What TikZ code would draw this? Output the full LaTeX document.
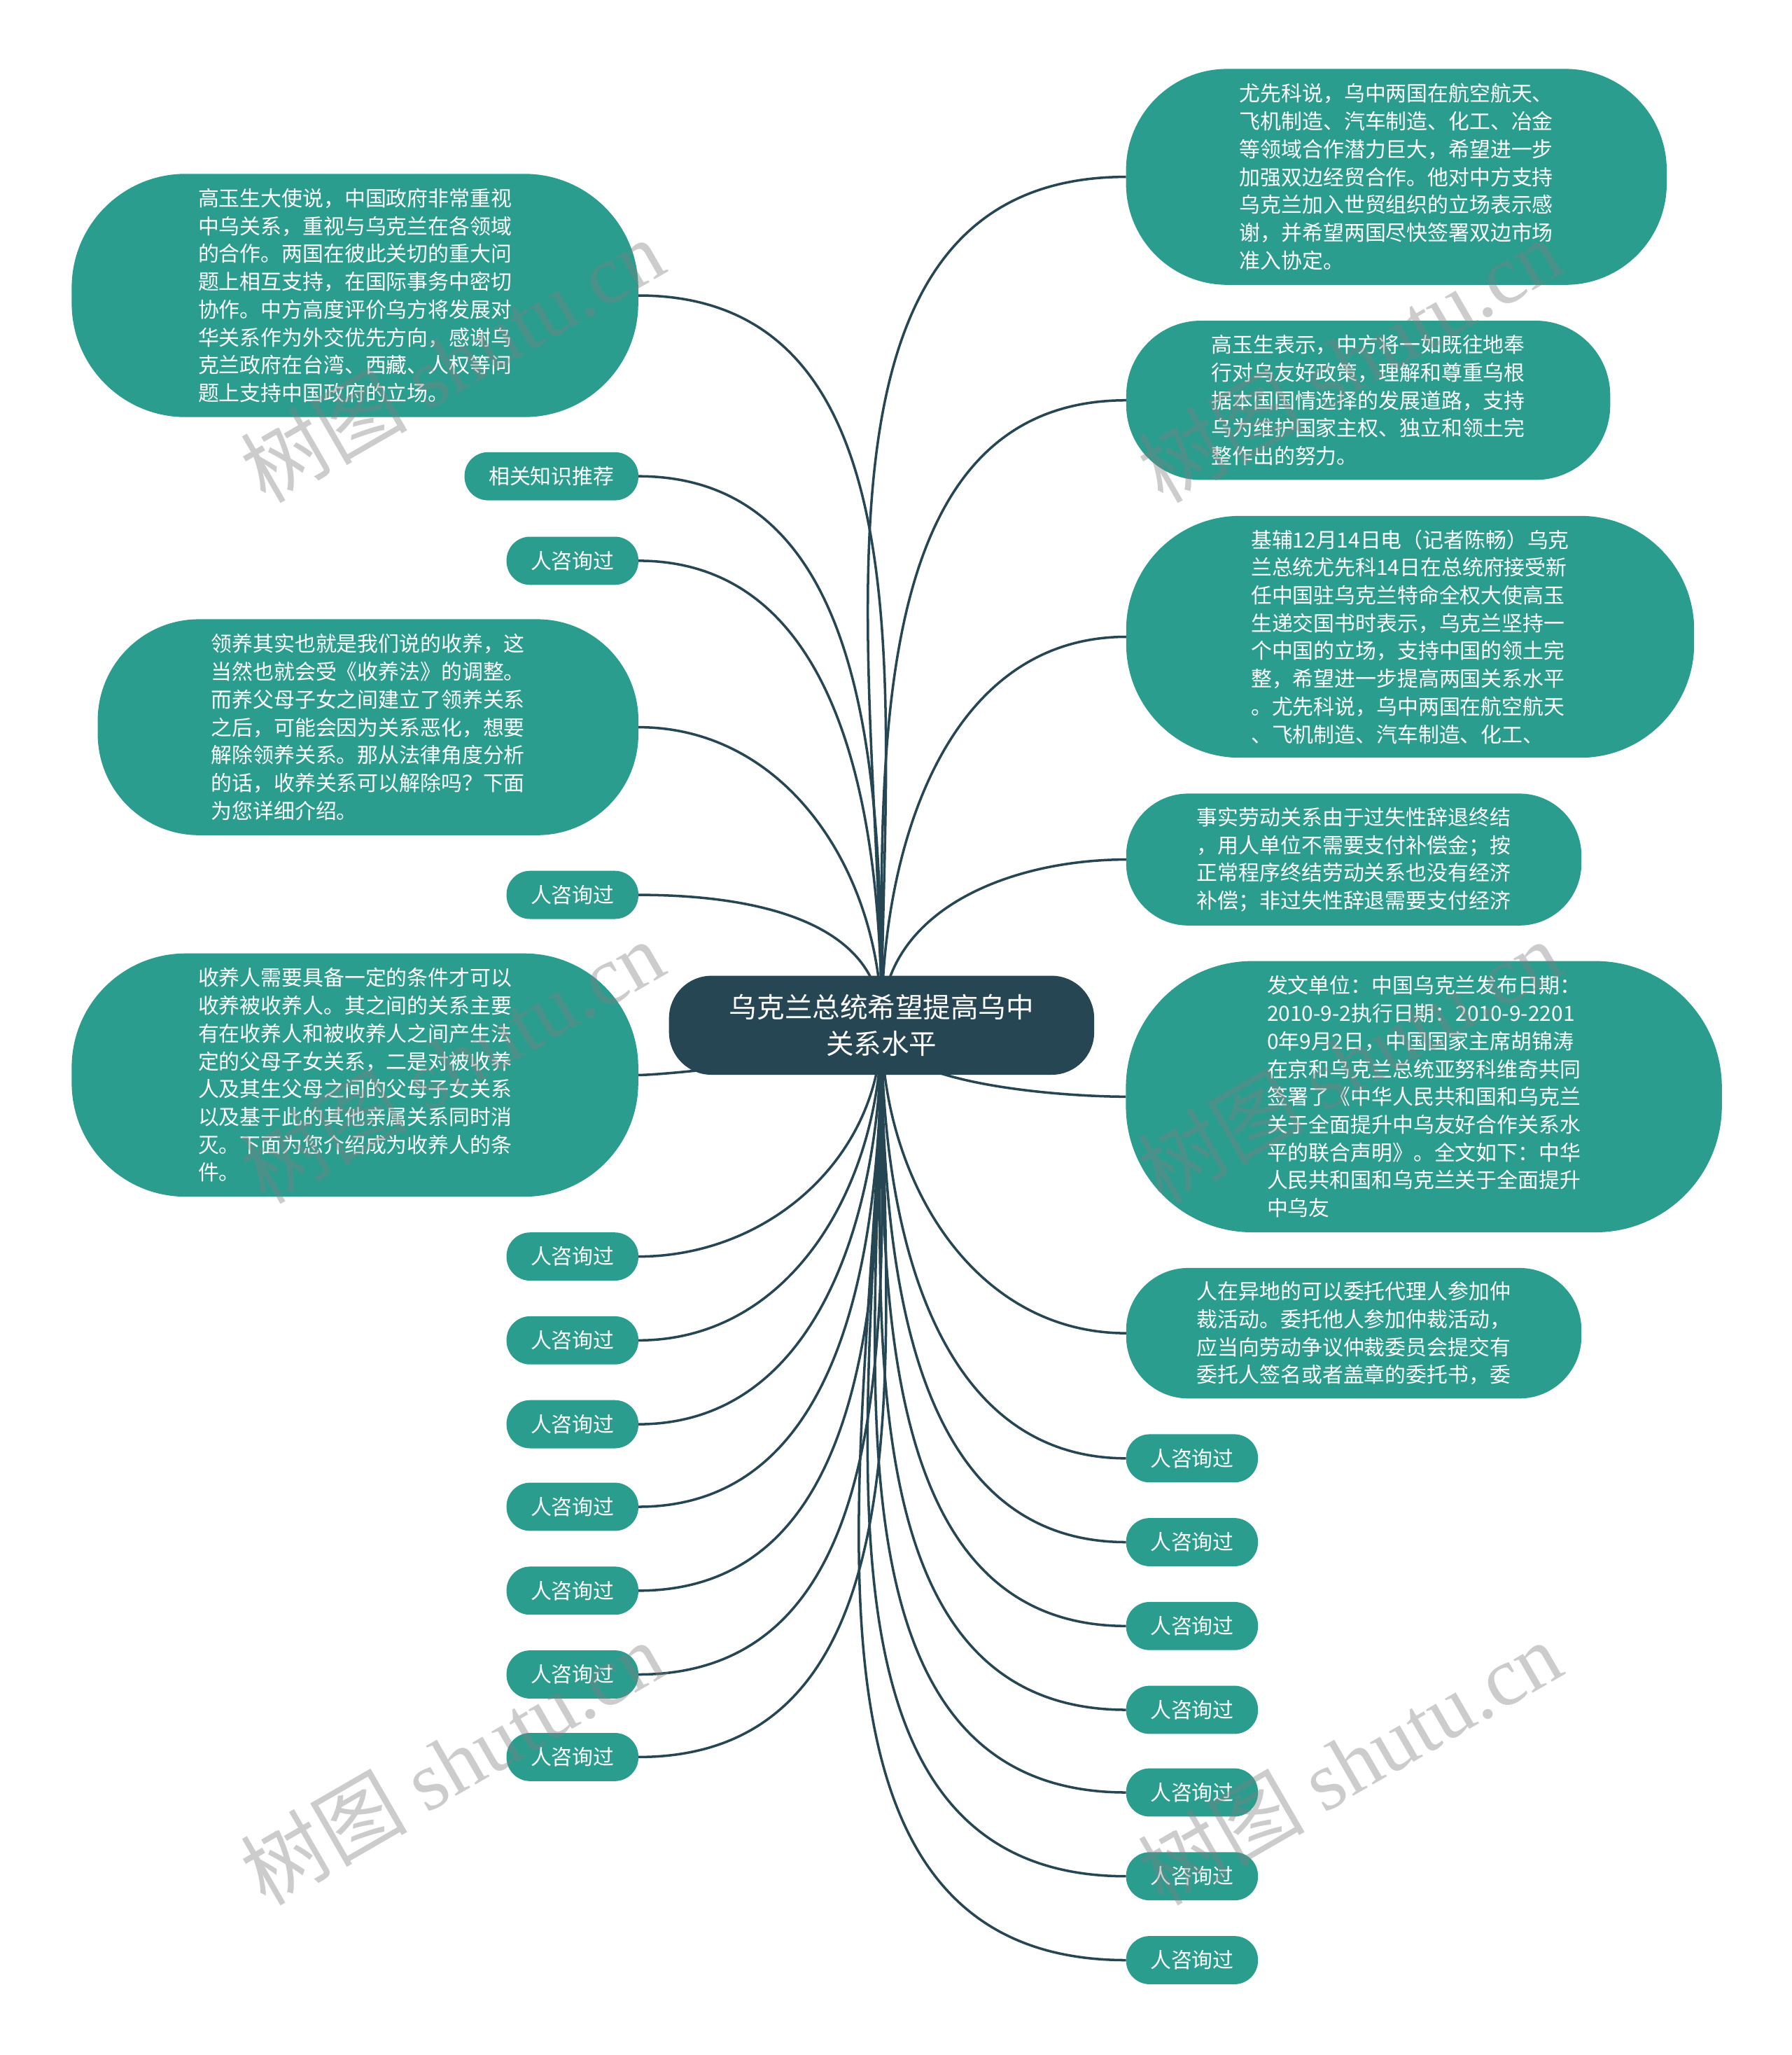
\documentclass[tikz,border=0pt]{standalone}
\usepackage{fontspec}
\newfontfamily\cjk{Noto Sans CJK SC}
\newfontfamily\wmlatin{Liberation Serif}
\usepackage{tikz}
\usetikzlibrary{backgrounds}
\definecolor{hubblue}{RGB}{38,70,83}
\definecolor{leafteal}{RGB}{42,157,143}

\begin{document}
\begin{tikzpicture}[
    hub/.style={draw=hubblue, fill=hubblue, text=white, rounded corners=0.6cm, minimum width=6.06cm, minimum height=1.40cm, align=center, inner sep=0pt, font=\cjk\fontsize{11.25pt}{14.9pt}\selectfont},
    card/.style={draw=leafteal, fill=leafteal, text=white, align=left, inner sep=0pt, font=\cjk\fontsize{8.5pt}{11.3pt}\selectfont},
    tag/.style={card, align=center, minimum width=1.87cm, minimum height=0.674cm, rounded corners=0.33cm},
    link/.style={draw=hubblue, line width=1pt},
    wmtext/.style={text=gray, opacity=0.4, rotate=30, font=\cjk\fontsize{34pt}{34pt}\selectfont}
]
\useasboundingbox (0,0) rectangle (25.6,-29.35);

\node[hub] (hub) at (12.594,-14.643) {乌克兰总统希望提高乌中\\关系水平};

% left side
\node[card, minimum width=8.08cm, minimum height=3.46cm, rounded corners=1.62cm] (ltalk) at (5.071,-4.220) {高玉生大使说，中国政府非常重视\\中乌关系，重视与乌克兰在各领域\\的合作。两国在彼此关切的重大问\\题上相互支持，在国际事务中密切\\协作。中方高度评价乌方将发展对\\华关系作为外交优先方向，感谢乌\\克兰政府在台湾、西藏、人权等问\\题上支持中国政府的立场。};
\node[tag, minimum width=2.47cm] (lknow) at (7.878,-6.802) {相关知识推荐};
\node[tag] (lask1) at (8.178,-8.009) {人咨询过};
\node[card, minimum width=7.71cm, minimum height=3.07cm, rounded corners=1.44cm] (ladopt) at (5.258,-10.386) {领养其实也就是我们说的收养，这\\当然也就会受《收养法》的调整。\\而养父母子女之间建立了领养关系\\之后，可能会因为关系恶化，想要\\解除领养关系。那从法律角度分析\\的话，收养关系可以解除吗？下面\\为您详细介绍。};
\node[tag] (lask2) at (8.178,-12.781) {人咨询过};
\node[card, minimum width=8.08cm, minimum height=3.46cm, rounded corners=1.62cm] (lcond) at (5.071,-15.354) {收养人需要具备一定的条件才可以\\收养被收养人。其之间的关系主要\\有在收养人和被收养人之间产生法\\定的父母子女关系，二是对被收养\\人及其生父母之间的父母子女关系\\以及基于此的其他亲属关系同时消\\灭。下面为您介绍成为收养人的条\\件。};
\node[tag] (lask3) at (8.178,-17.946) {人咨询过};
\node[tag] (lask4) at (8.178,-19.143) {人咨询过};
\node[tag] (lask5) at (8.178,-20.341) {人咨询过};
\node[tag] (lask6) at (8.178,-21.520) {人咨询过};
\node[tag] (lask7) at (8.178,-22.718) {人咨询过};
\node[tag] (lask8) at (8.178,-23.915) {人咨询过};
\node[tag] (lask9) at (8.178,-25.094) {人咨询过};

% right side
\node[card, minimum width=7.71cm, minimum height=3.07cm, rounded corners=1.44cm] (rcoop) at (19.948,-2.526) {尤先科说，乌中两国在航空航天、\\飞机制造、汽车制造、化工、冶金\\等领域合作潜力巨大，希望进一步\\加强双边经贸合作。他对中方支持\\乌克兰加入世贸组织的立场表示感\\谢，并希望两国尽快签署双边市场\\准入协定。};
\node[card, minimum width=6.90cm, minimum height=2.26cm, rounded corners=1.06cm] (rpolicy) at (19.546,-5.717) {高玉生表示，中方将一如既往地奉\\行对乌友好政策，理解和尊重乌根\\据本国国情选择的发展道路，支持\\乌为维护国家主权、独立和领土完\\整作出的努力。};
\node[card, minimum width=8.10cm, minimum height=3.44cm, rounded corners=1.62cm] (rnews) at (20.145,-9.095) {基辅12月14日电（记者陈畅）乌克\\兰总统尤先科14日在总统府接受新\\任中国驻乌克兰特命全权大使高玉\\生递交国书时表示，乌克兰坚持一\\个中国的立场，支持中国的领土完\\整，希望进一步提高两国关系水平\\。尤先科说，乌中两国在航空航天\\、飞机制造、汽车制造、化工、};
\node[card, minimum width=6.49cm, minimum height=1.87cm, rounded corners=0.88cm] (rlabour) at (19.340,-12.276) {事实劳动关系由于过失性辞退终结\\，用人单位不需要支付补偿金；按\\正常程序终结劳动关系也没有经济\\补偿；非过失性辞退需要支付经济};
\node[card, minimum width=8.50cm, minimum height=3.86cm, rounded corners=1.8cm] (rdoc) at (20.341,-15.663) {发文单位：中国乌克兰发布日期：\\2010-9-2执行日期：2010-9-2201\\0年9月2日，中国国家主席胡锦涛\\在京和乌克兰总统亚努科维奇共同\\签署了《中华人民共和国和乌克兰\\关于全面提升中乌友好合作关系水\\平的联合声明》。全文如下：中华\\人民共和国和乌克兰关于全面提升\\中乌友};
\node[card, minimum width=6.49cm, minimum height=1.85cm, rounded corners=0.88cm] (ragent) at (19.340,-19.041) {人在异地的可以委托代理人参加仲\\裁活动。委托他人参加仲裁活动，\\应当向劳动争议仲裁委员会提交有\\委托人签名或者盖章的委托书，委};
\node[tag] (rask1) at (17.029,-20.828) {人咨询过};
\node[tag] (rask2) at (17.029,-22.025) {人咨询过};
\node[tag] (rask3) at (17.029,-23.223) {人咨询过};
\node[tag] (rask4) at (17.029,-24.420) {人咨询过};
\node[tag] (rask5) at (17.029,-25.600) {人咨询过};
\node[tag] (rask6) at (17.029,-26.797) {人咨询过};
\node[tag] (rask7) at (17.029,-27.995) {人咨询过};

\begin{scope}[on background layer]
\fill[white] (0,0) rectangle (25.6,-29.35);
\draw[link] (hub.center) to[out=90,in=0] (ltalk.east);
\draw[link] (hub.center) to[out=90,in=0] (lknow.east);
\draw[link] (hub.center) to[out=90,in=0] (lask1.east);
\draw[link] (hub.center) to[out=90,in=0] (ladopt.east);
\draw[link] (hub.center) to[out=90,in=0] (lask2.east);
\draw[link] (hub.center) to[out=-90,in=0,looseness=0.3] (lcond.east);
\draw[link] (hub.center) to[out=-90,in=0] (lask3.east);
\draw[link] (hub.center) to[out=-90,in=0] (lask4.east);
\draw[link] (hub.center) to[out=-90,in=0] (lask5.east);
\draw[link] (hub.center) to[out=-90,in=0] (lask6.east);
\draw[link] (hub.center) to[out=-90,in=0] (lask7.east);
\draw[link] (hub.center) to[out=-90,in=0] (lask8.east);
\draw[link] (hub.center) to[out=-90,in=0] (lask9.east);
\draw[link] (hub.center) to[out=90,in=180] (rcoop.west);
\draw[link] (hub.center) to[out=90,in=180] (rpolicy.west);
\draw[link] (hub.center) to[out=90,in=180] (rnews.west);
\draw[link] (hub.center) to[out=90,in=180] (rlabour.west);
\draw[link] (hub.center) to[out=-90,in=180,looseness=0.6] (rdoc.west);
\draw[link] (hub.center) to[out=-90,in=180] (ragent.west);
\draw[link] (hub.center) to[out=-90,in=180] (rask1.west);
\draw[link] (hub.center) to[out=-90,in=180] (rask2.west);
\draw[link] (hub.center) to[out=-90,in=180] (rask3.west);
\draw[link] (hub.center) to[out=-90,in=180] (rask4.west);
\draw[link] (hub.center) to[out=-90,in=180] (rask5.west);
\draw[link] (hub.center) to[out=-90,in=180] (rask6.west);
\draw[link] (hub.center) to[out=-90,in=180] (rask7.west);
\end{scope}

% watermarks
\node[wmtext] (wm1) at (6.456,-5.146) {树图 {\wmlatin shutu.cn}};
\node[wmtext] (wm2) at (19.274,-5.146) {树图 {\wmlatin shutu.cn}};
\node[wmtext] (wm3) at (6.456,-15.158) {树图 {\wmlatin shutu.cn}};
\node[wmtext] (wm4) at (19.274,-15.158) {树图 {\wmlatin shutu.cn}};
\node[wmtext] (wm5) at (6.456,-25.169) {树图 {\wmlatin shutu.cn}};
\node[wmtext] (wm6) at (19.274,-25.169) {树图 {\wmlatin shutu.cn}};
\end{tikzpicture}
\end{document}
